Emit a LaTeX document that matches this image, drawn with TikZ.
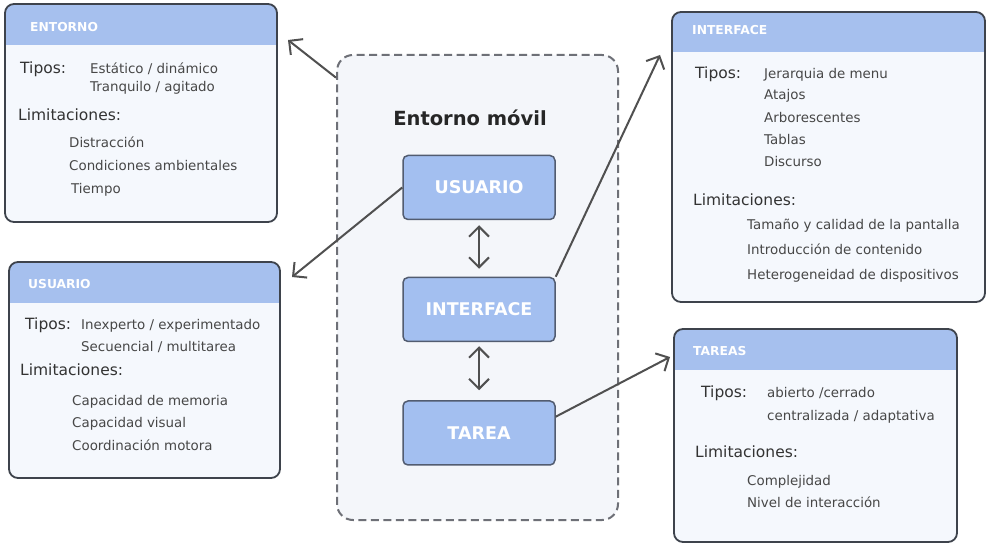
\documentclass[tikz,border=0pt]{standalone}
\usepackage{fontspec}
\setmainfont{DejaVu Sans}
\usetikzlibrary{arrows.meta}

\definecolor{headblue}{HTML}{A6C0EE}
\definecolor{bodyfill}{HTML}{F5F8FD}
\definecolor{framec}{HTML}{3E434C}
\definecolor{nodeblue}{HTML}{A3BFF0}
\definecolor{nodeframe}{HTML}{525C70}
\definecolor{dashgray}{HTML}{6E7077}
\definecolor{zonefill}{HTML}{F4F6FA}
\definecolor{labelc}{HTML}{333333}
\definecolor{itemc}{HTML}{474747}
\definecolor{arrowc}{HTML}{505050}

\tikzset{
  panelbody/.style={fill=bodyfill, rounded corners=9pt, inner sep=0pt, outer sep=0pt},
  panelframe/.style={draw=framec, line width=1.8pt, rounded corners=9pt},
  paneltitle/.style={anchor=mid west, text=white, inner sep=0pt,
    font=\fontsize{12.3}{14}\selectfont\bfseries},
  headword/.style={anchor=mid west, text=labelc, inner sep=0pt,
    font=\fontsize{15.5}{18}\selectfont},
  itemtext/.style={anchor=mid west, text=itemc, inner sep=0pt,
    font=\fontsize{13.4}{16}\selectfont},
  unitbox/.style={draw=nodeframe, fill=nodeblue, line width=1.5pt,
    rounded corners=5pt, minimum width=152pt, minimum height=64pt,
    text=white, font=\fontsize{17.5}{20}\selectfont\bfseries},
  zone/.style={draw=dashgray, fill=zonefill, line width=2pt,
    dash pattern=on 8pt off 4.5pt, rounded corners=16pt},
  linkarrow/.style={draw=arrowc, line width=2pt,
    -{Straight Barb[length=10pt,width=20pt]}},
  pairarrow/.style={draw=arrowc, line width=2pt,
    {Straight Barb[length=10pt,width=20pt]}-{Straight Barb[length=10pt,width=20pt]}},
}

% #1 name, #2 x1, #3 y1, #4 x2, #5 y2, #6 bottom of the title band
\newcommand{\infopanel}[6]{%
  \node[panelbody, minimum width={#4-#2}, minimum height={#5-#3}]
    (#1) at ({(#2+#4)/2},{(#3+#5)/2}) {};
  \begin{scope}
    \clip[rounded corners=9pt] (#1.north west) rectangle (#1.south east);
    \fill[headblue] (#1.north west) rectangle (#4,#6);
  \end{scope}
  \draw[panelframe] (#1.north west) rectangle (#1.south east);
}

\begin{document}
\begin{tikzpicture}[x=1pt, y=-1pt]
  \fill[white] (0,0) rectangle (989,545);
  \useasboundingbox (0,0) rectangle (989,545);

  % central zone with the three components
  \node[zone, minimum width=281pt, minimum height=465pt] (zone) at (477.5,287.5) {};
  \node[text=black!85, font=\fontsize{19.5}{22}\selectfont\bfseries] (zonetitle) at (470,118) {Entorno móvil};
  \node[unitbox] (uN) at (479,187.5) {USUARIO};
  \node[unitbox] (iN) at (479,309.5) {INTERFACE};
  \node[unitbox] (tN) at (479,433) {TAREA};
  \draw[pairarrow, shorten <=5pt, shorten >=8pt] (uN) -- (iN);
  \draw[pairarrow, shorten <=4pt, shorten >=10pt] (iN) -- (tN);

  % ENTORNO
  \infopanel{env}{5}{4}{277}{222}{45}
  \node[paneltitle] (env-h) at (30,29) {ENTORNO};
  \node[headword] (env-tp) at (20,71) {Tipos:};
  \node[itemtext] (env-a) at (90,71) {Estático / dinámico};
  \node[itemtext] (env-b) at (90,89) {Tranquilo / agitado};
  \node[headword] (env-lm) at (18,118) {Limitaciones:};
  \node[itemtext] (env-c) at (69,145) {Distracción};
  \node[itemtext] (env-d) at (69,168) {Condiciones ambientales};
  \node[itemtext] (env-e) at (71,191) {Tiempo};

  % USUARIO
  \infopanel{usr}{9}{262}{280}{478}{303}
  \node[paneltitle] (usr-h) at (28,286) {USUARIO};
  \node[headword] (usr-tp) at (25,327) {Tipos:};
  \node[itemtext] (usr-a) at (81,327) {Inexperto / experimentado};
  \node[itemtext] (usr-b) at (81,349) {Secuencial / multitarea};
  \node[headword] (usr-lm) at (20,373) {Limitaciones:};
  \node[itemtext] (usr-c) at (72,403) {Capacidad de memoria};
  \node[itemtext] (usr-d) at (72,425) {Capacidad visual};
  \node[itemtext] (usr-e) at (72,448) {Coordinación motora};

  % INTERFACE
  \infopanel{ifc}{672}{12}{985}{302}{52}
  \node[paneltitle] (ifc-h) at (692,32) {INTERFACE};
  \node[headword] (ifc-tp) at (695,76) {Tipos:};
  \node[itemtext] (ifc-a) at (764,76) {Jerarquia de menu};
  \node[itemtext] (ifc-b) at (764,97) {Atajos};
  \node[itemtext] (ifc-c) at (764,120) {Arborescentes};
  \node[itemtext] (ifc-d) at (764,142) {Tablas};
  \node[itemtext] (ifc-e) at (764,164) {Discurso};
  \node[headword] (ifc-lm) at (693,203) {Limitaciones:};
  \node[itemtext] (ifc-f) at (747,227) {Tamaño y calidad de la pantalla};
  \node[itemtext] (ifc-g) at (747,252) {Introducción de contenido};
  \node[itemtext] (ifc-k) at (747,277) {Heterogeneidad de dispositivos};

  % TAREAS
  \infopanel{tsk}{674}{329}{957}{542}{370}
  \node[paneltitle] (tsk-h) at (693,353) {TAREAS};
  \node[headword] (tsk-tp) at (701,395) {Tipos:};
  \node[itemtext] (tsk-a) at (767,395) {abierto /cerrado};
  \node[itemtext] (tsk-b) at (767,418) {centralizada / adaptativa};
  \node[headword] (tsk-lm) at (695,455) {Limitaciones:};
  \node[itemtext] (tsk-c) at (747,483) {Complejidad};
  \node[itemtext] (tsk-d) at (747,505) {Nivel de interacción};

  % links from the zone to the panels
  \coordinate (envTip) at (288,40);
  \coordinate (usrTip) at (292,277);
  \coordinate (ifcTip) at (660,55);
  \coordinate (tskTip) at (670,357);
  \draw[linkarrow] (zone.124.6) -- (envTip);
  \draw[linkarrow] (uN.west) -- (usrTip);
  \draw[linkarrow] (iN.north east) -- (ifcTip);
  \draw[linkarrow] (tN.12) -- (tskTip);
\end{tikzpicture}
\end{document}
